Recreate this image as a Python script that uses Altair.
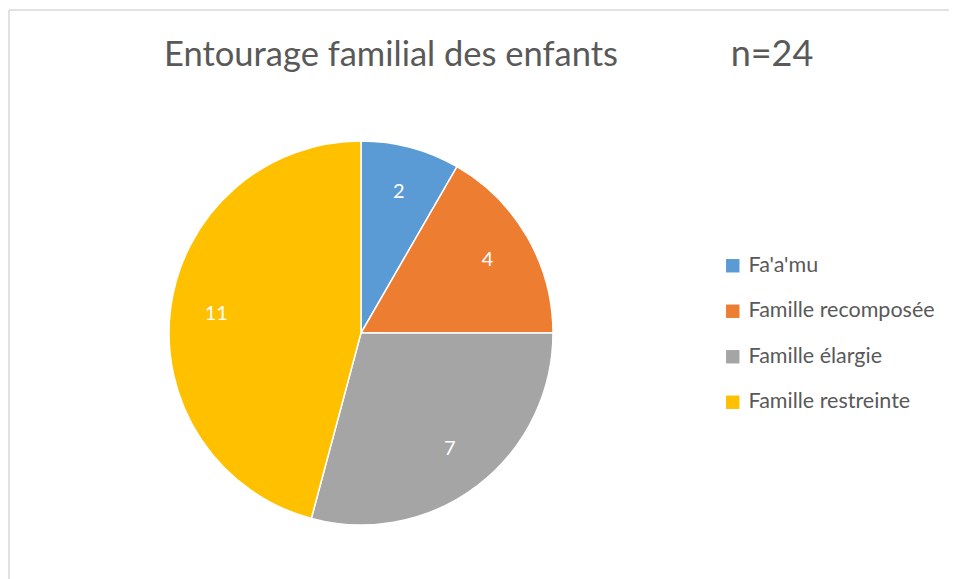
import altair as alt
import pandas as pd

categories = ["Fa'a'mu", "Famille recomposée", "Famille élargie", "Famille restreinte"]
values = [2, 4, 7, 11]
colors = ["#5B9BD5", "#ED7D31", "#A5A5A5", "#FFC000"]
title_main = "Entourage familial des enfants"
title_n = "n=24"

df = pd.DataFrame({"cat": categories, "val": values, "order": list(range(len(categories)))})

W, H = 940, 569
cx, cy = 352, 323
R = 192
FONT = "Lato"

base = alt.Chart(df).encode(
    theta=alt.Theta("val:Q", stack=True),
    order=alt.Order("order:Q"),
)

pie = base.mark_arc(outerRadius=R, stroke="white", strokeWidth=1.5).encode(
    x=alt.value(cx), y=alt.value(cy),
    color=alt.Color("cat:N", sort=categories,
                    scale=alt.Scale(domain=categories, range=colors),
                    legend=alt.Legend(title=None, orient="none", legendX=713, legendY=245,
                                      symbolType="square", symbolSize=180, symbolStrokeWidth=0,
                                      labelFontSize=21.5, labelFont=FONT, labelColor="#595959",
                                      rowPadding=22.5, labelOffset=5, labelLimit=300)),
)

labels = base.mark_text(radius=146, fontSize=20, font=FONT, color="white").encode(
    x=alt.value(cx), y=alt.value(cy),
    text="val:Q",
)

t1 = alt.Chart(pd.DataFrame({"t": [title_main]})).mark_text(
    fontSize=34.5, font=FONT, color="#595959", baseline="alphabetic", align="center"
).encode(text="t:N", x=alt.value(382), y=alt.value(56))
t2 = alt.Chart(pd.DataFrame({"t": [title_n]})).mark_text(
    fontSize=36, font=FONT, color="#595959", baseline="alphabetic", align="center"
).encode(text="t:N", x=alt.value(763), y=alt.value(56))

frame = alt.Chart(pd.DataFrame({"k": [0]}))
top_line = frame.mark_rule(color="#D9D9D9", strokeWidth=1.5).encode(
    x=alt.value(0), x2=alt.value(W), y=alt.value(0))
left_line = frame.mark_rule(color="#D9D9D9", strokeWidth=1.5).encode(
    x=alt.value(0), y=alt.value(0), y2=alt.value(H))

chart = alt.layer(top_line, left_line, pie, labels, t1, t2).properties(
    width=W, height=H,
    padding={"left": 1, "top": 2, "right": 0, "bottom": 0},
    autosize=alt.AutoSizeParams(type="none"),
).configure_view(stroke=None)

chart.save("out.html", embed_options={"renderer": "svg", "actions": False})
